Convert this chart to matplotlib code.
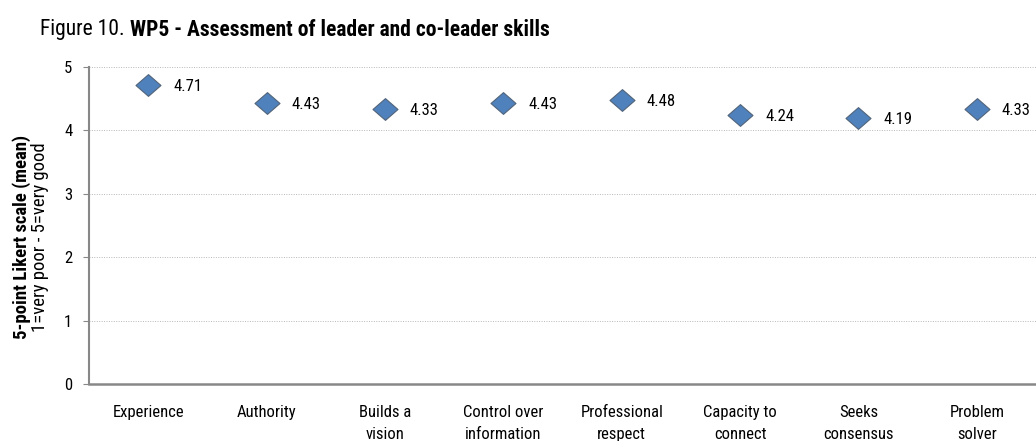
import matplotlib
matplotlib.use("Agg")
import matplotlib.pyplot as plt
from matplotlib import font_manager
from matplotlib.path import Path

skills = ["Experience", "Authority", "Builds a\nvision", "Control over\ninformation",
          "Professional\nrespect", "Capacity to\nconnect", "Seeks\nconsensus", "Problem\nsolver"]
means = [4.71, 4.43, 4.33, 4.43, 4.48, 4.24, 4.19, 4.33]
yticks = [0, 1, 2, 3, 4, 5]

# prefer a narrow face like the original, else plain Liberation Sans
names = sorted({f.name for f in font_manager.fontManager.ttflist})
fam = "Liberation Sans"
narrow = False
for cand in ["Liberation Sans Narrow", "Arial Narrow", "Roboto Condensed", "Open Sans Condensed"]:
    if cand in names:
        fam, narrow = cand, True
        break
else:
    for n in names:
        if "Narrow" in n or "Condensed" in n:
            fam, narrow = n, True
            break
plt.rcParams["font.family"] = [fam, "DejaVu Sans"]
fs = 12 if narrow else 11.5
title_fs = 15.5 if narrow else 13
ylab_fs = 13.5 if narrow else 12.5

fig = plt.figure(figsize=(10.36, 4.41), dpi=100)
ax = fig.add_axes([89 / 1036, 1 - 384 / 441, 1 - 89 / 1036, (384 - 67) / 441])

# slightly wide diamond
diamond = Path([(-1.15, 0), (0, 1), (1.15, 0), (0, -1), (-1.15, 0)], closed=True)

x = list(range(len(skills)))
ax.plot(x, means, linestyle="none", marker=diamond, markersize=18,
        markerfacecolor="#4F81BD", markeredgecolor="#51647a", markeredgewidth=0.8, zorder=3)
for xi, v in zip(x, means):
    ax.annotate(f"{v:.2f}", (xi, v), xytext=(18, -1), textcoords="offset points",
                va="center", ha="left", fontsize=fs)

ax.set_xlim(-0.5, len(skills) - 0.5)
ax.set_ylim(0, 5)
ax.set_yticks(yticks)
ax.set_xticks(x)
ax.set_xticklabels(skills, fontsize=fs, va="top", linespacing=1.6)
ax.tick_params(axis="x", length=0, pad=15)
ax.tick_params(axis="y", length=4, direction="out", color="#888888", labelsize=fs, pad=8)
ax.yaxis.grid(True, linestyle=(0, (1, 1.5)), color="#b8b8b8", linewidth=0.7)
ax.set_axisbelow(True)
for s in ["top", "right"]:
    ax.spines[s].set_visible(False)
ax.spines["left"].set_color("#888888")
ax.spines["left"].set_linewidth(1.5)
ax.spines["bottom"].set_color("#888888")
ax.spines["bottom"].set_linewidth(1.8)

fig.text(22 / 1036, 1 - 237 / 441, "5-point Likert scale (mean)", rotation=90,
         ha="center", va="center", fontsize=ylab_fs, fontweight="bold")
fig.text(40 / 1036, 1 - 237 / 441, "1=very poor - 5=very good", rotation=90,
         ha="center", va="center", fontsize=ylab_fs)

t1 = fig.text(40 / 1036, 1 - 30 / 441, "Figure 10. ", fontsize=title_fs, va="center", ha="left")
fig.canvas.draw()
bb = t1.get_window_extent()
fig.text(bb.x1 / 1036, 1 - 30 / 441, "WP5 - Assessment of leader and co-leader skills",
         fontsize=title_fs, fontweight="bold", va="center", ha="left")

fig.savefig("out.png", dpi=100)
